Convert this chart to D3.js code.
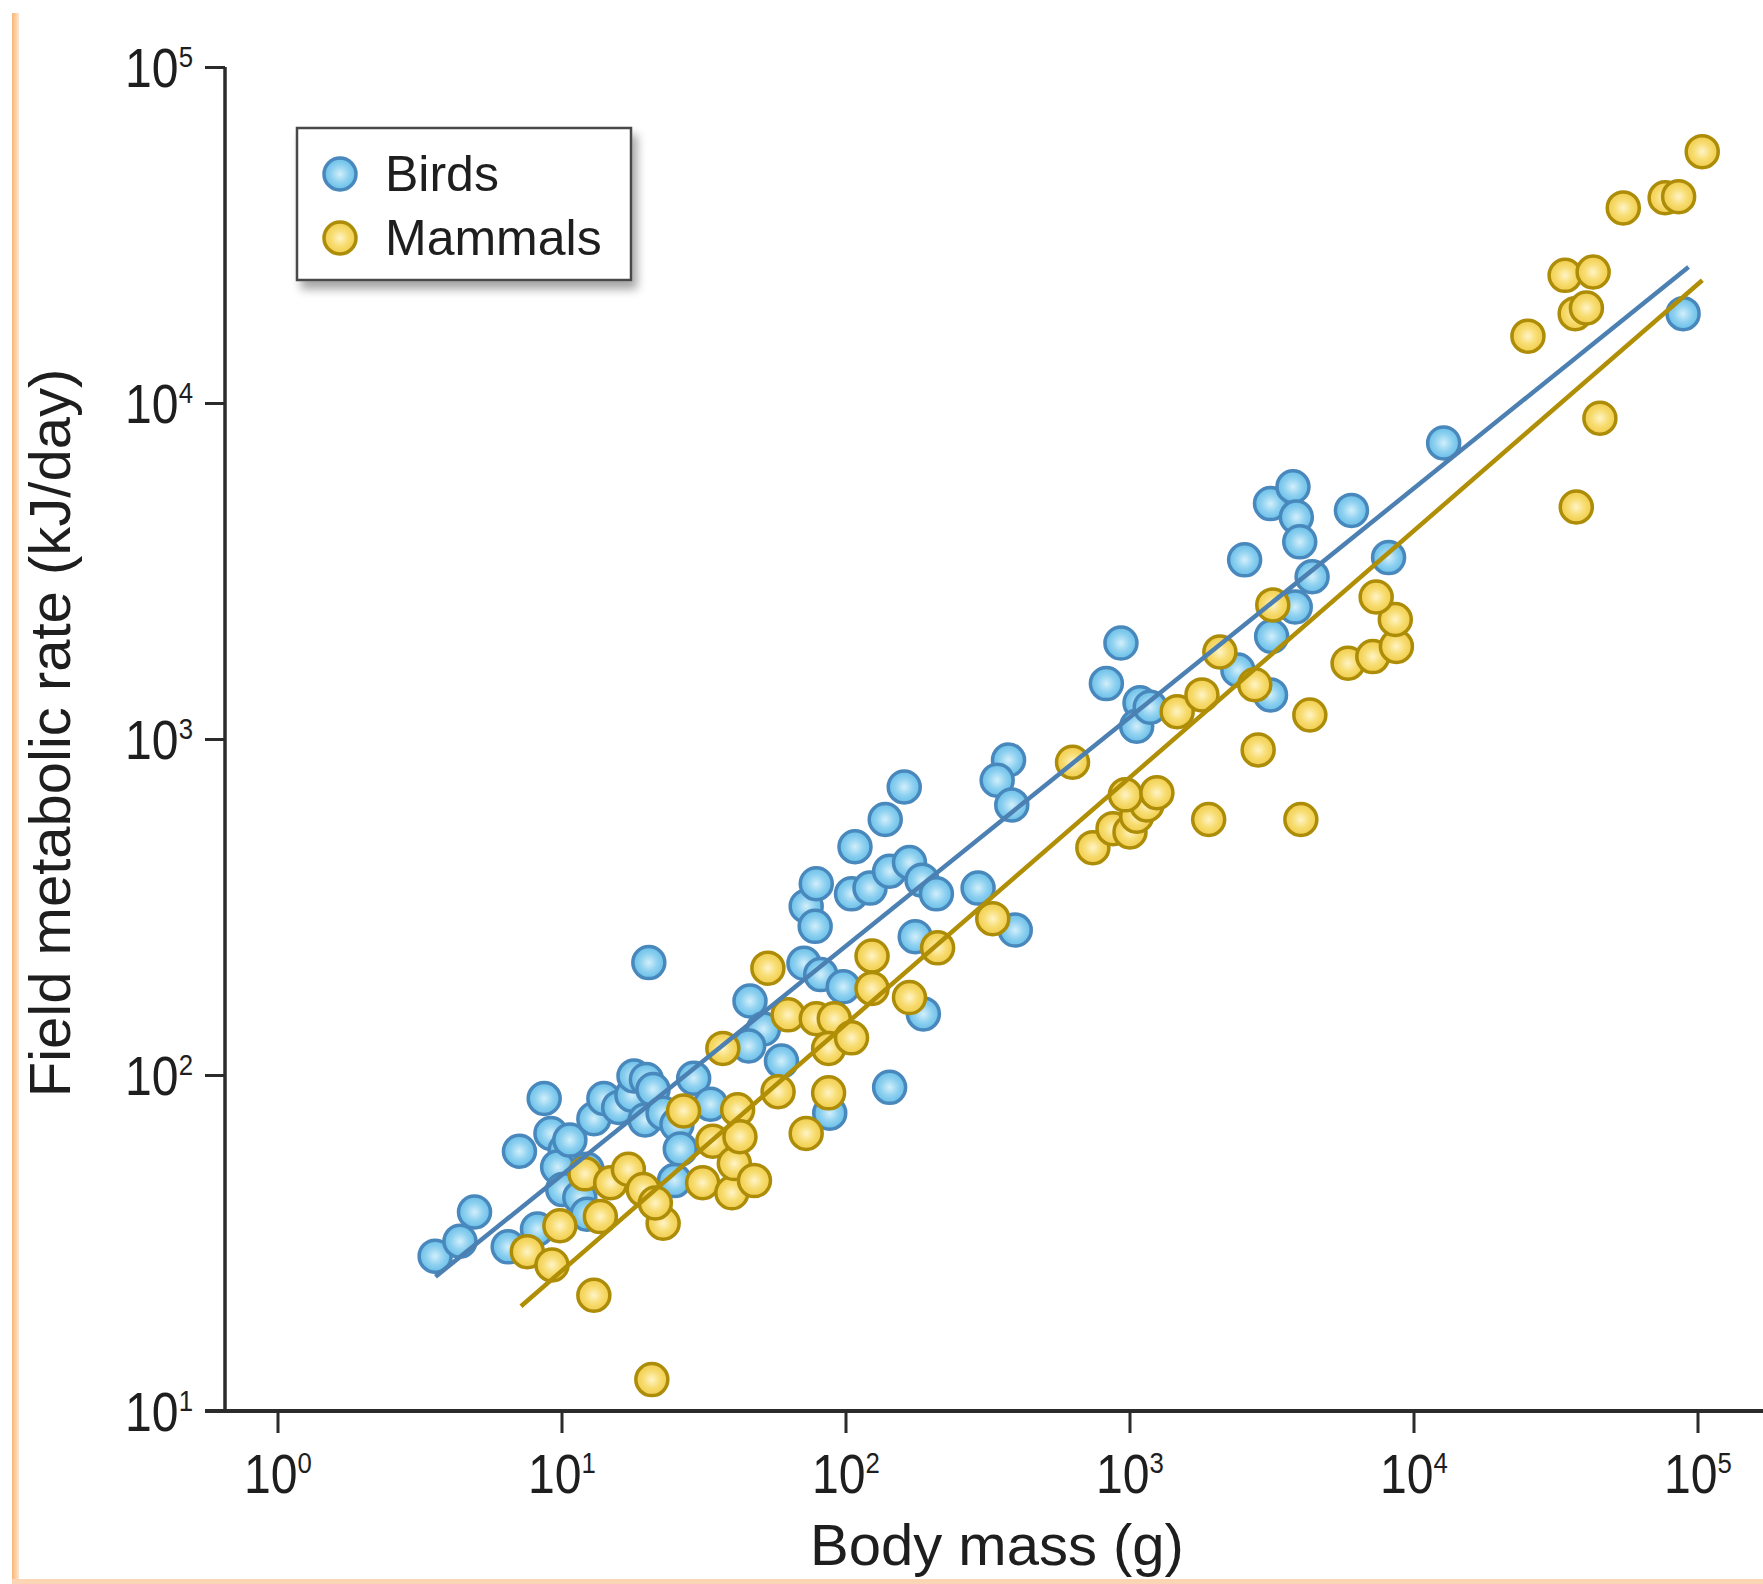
<!DOCTYPE html>
<html>
<head>
<meta charset="utf-8">
<script src="https://cdn.jsdelivr.net/npm/d3@7"></script>
<style>
  html, body { margin: 0; padding: 0; background: #fff; }
  svg { display: block; }
  text { font-family: "Liberation Sans", Arial, Helvetica, sans-serif; }
</style>
</head>
<body>
<script>
// Body mass (g) and field metabolic rate (kJ/day) for each species.
const birdMass = [3.59, 4.39, 4.94, 6.49, 8.23, 7.11, 8.69, 9.18, 10.3, 9.69,
  10.1, 11.6, 12.3, 10.7, 12.3, 13.0, 14.1, 15.9, 17.7, 18.0,
  19.9, 21.0, 19.7, 22.8, 25.5, 26.2, 25.0, 29.2, 33.5, 20.3,
  46.1, 51.4, 45.6, 59.5, 71.4, 81.8, 98.2, 143, 88.0, 72.7,
  78.9, 78.2, 105, 122, 108, 138, 161, 143, 168, 186,
  209, 293, 176, 396, 188, 375, 342, 385, 829, 933,
  1089, 1060, 1183, 2543, 2408, 3137, 3166, 3137, 3764, 3868,
  3976, 4395, 3833, 6046, 8170, 12770, 88970];
const birdFMR = [28.9, 32.0, 39.1, 30.8, 34.8, 59.3, 85.1, 67.0, 59.7, 53.2,
  45.6, 43.2, 38.5, 64.0, 52.4, 74.1, 85.1, 80.1, 87.1, 99.3,
  97.0, 90.5, 73.5, 77.0, 71.3, 60.2, 48.5, 97.8, 81.9, 216,
  166, 137, 122, 110, 215, 199, 183, 91.9, 77.0, 318,
  371, 277, 346, 360, 478, 576, 720, 404, 429, 380,
  346, 360, 258, 270, 152, 866, 754, 636, 1462, 1930,
  1282, 1091, 1244, 3413, 1604, 1353, 2021, 5018, 5634, 4575,
  3861, 3040, 2470, 4791, 3466, 7606, 18450];

const mammalMass = [20.8, 13.0, 7.58, 9.26, 9.87, 13.7, 22.8, 12.1, 14.9, 17.2,
  19.4, 21.4, 26.9, 31.4, 34.1, 39.8, 40.6, 41.7, 42.5, 47.8,
  37.0, 53.3, 57.9, 62.8, 72.7, 78.9, 91.3, 87.2, 105, 87.2,
  124, 124, 168, 211, 330, 630, 743, 875, 1004, 1060,
  1151, 967, 1249, 1900, 1472, 1799, 2081, 2761, 2838, 3195,
  4315, 4012, 5883, 7190, 8706, 8627, 7389, 37430, 45330, 25290,
  34180, 42910, 37090, 40630, 54780, 76910, 85810, 103900];
const mammalFMR = [12.4, 22.1, 29.8, 27.2, 35.6, 37.9, 36.2, 50.8, 47.8, 52.4,
  45.6, 41.6, 78.2, 47.8, 63.5, 44.6, 54.5, 78.8, 65.5, 48.5,
  120, 208, 89.2, 151, 67.0, 147, 147, 120, 129, 88.5,
  226, 181, 170, 239, 292, 853, 475, 541, 529, 589,
  636, 682, 692, 576, 1206, 1353, 1815, 1451, 928, 2507,
  1179, 576, 1680, 1759, 1886, 2268, 2647, 4903, 9012, 15810,
  23980, 24540, 18450, 19180, 38080, 40820, 41130, 55980];

// Fitted allometric lines (endpoints: mass, FMR).
const birdFitMass = [3.6, 93000];
const birdFitFMR = [25.1, 25400];
const mammalFitMass = [7.2, 104000];
const mammalFitFMR = [20.5, 23200];

const xTicks = [1, 10, 100, 1000, 10000, 100000];
const yTicks = [10, 100, 1000, 10000, 100000];
const legendLabels = ["Birds", "Mammals"];

const W = 1763, H = 1584;
const svg = d3.select("body").append("svg").attr("width", W).attr("height", H);

const x = d3.scaleLog().domain([1, 1e5]).range([277.5, 1697.5]);
const y = d3.scaleLog().domain([10, 1e5]).range([1411, 67]);

const defs = svg.append("defs");
function radial(id, c0, c1, c2) {
  const g = defs.append("radialGradient").attr("id", id)
    .attr("cx", "50%").attr("cy", "50%").attr("r", "55%");
  g.append("stop").attr("offset", "0%").attr("stop-color", c0);
  g.append("stop").attr("offset", "50%").attr("stop-color", c1);
  g.append("stop").attr("offset", "100%").attr("stop-color", c2);
}
radial("gBird", "#d2effb", "#8fd1f0", "#5fbae7");
radial("gMammal", "#fff4c6", "#f7dc70", "#efc944");

const edge = defs.append("linearGradient").attr("id", "edge")
  .attr("x1", "0%").attr("x2", "100%");
edge.append("stop").attr("offset", "0%").attr("stop-color", "#f8b675");
edge.append("stop").attr("offset", "100%").attr("stop-color", "#fde6d0");

const shadow = defs.append("filter").attr("id", "shadow")
  .attr("x", "-10%").attr("y", "-10%").attr("width", "130%").attr("height", "140%");
shadow.append("feDropShadow").attr("dx", 5).attr("dy", 8)
  .attr("stdDeviation", 5).attr("flood-color", "#000").attr("flood-opacity", 0.35);

// page frame edges
svg.append("rect").attr("x", 12).attr("y", 13).attr("width", 7).attr("height", H - 13)
  .attr("fill", "url(#edge)");
svg.append("rect").attr("x", 12).attr("y", 1579).attr("width", W - 12).attr("height", 5)
  .attr("fill", "#fcd6b4");

const style = {
  bird: { fill: "url(#gBird)", stroke: "#4888bc", line: "#4c80b2" },
  mammal: { fill: "url(#gMammal)", stroke: "#ad8c08", line: "#b08e05" }
};
const R = 16;

function drawPoints(mass, fmr, s) {
  const pts = mass.map((m, i) => ({ m, f: fmr[i] }));
  svg.append("g").selectAll("circle").data(pts).join("circle")
    .attr("cx", d => x(d.m)).attr("cy", d => y(d.f)).attr("r", R)
    .attr("fill", s.fill).attr("stroke", s.stroke).attr("stroke-width", 3.5);
}
drawPoints(birdMass, birdFMR, style.bird);
drawPoints(mammalMass, mammalFMR, style.mammal);

const line = d3.line().x(d => x(d[0])).y(d => y(d[1]));
function drawFit(ms, fs, color) {
  svg.append("path").datum(ms.map((m, i) => [m, fs[i]]))
    .attr("d", line).attr("fill", "none").attr("stroke", color).attr("stroke-width", 4.5);
}
drawFit(birdFitMass, birdFitFMR, style.bird.line);
drawFit(mammalFitMass, mammalFitFMR, style.mammal.line);

// axes
const axisColor = "#2b2b2b";
const xAxis = svg.append("g").attr("transform", `translate(0,${y.range()[0]})`)
  .call(d3.axisBottom(x).tickValues(xTicks).tickSize(22).tickSizeOuter(0).tickFormat(() => ""));
const yAxis = svg.append("g").attr("transform", `translate(225,0)`)
  .call(d3.axisLeft(y).tickValues(yTicks).tickSize(20).tickSizeOuter(0).tickFormat(() => ""));
[xAxis, yAxis].forEach(a => {
  a.select(".domain").remove();
  a.selectAll(".tick line").attr("stroke", axisColor).attr("stroke-width", 3);
  a.selectAll(".tick text").remove();
});
svg.append("line").attr("x1", 225).attr("x2", 225).attr("y1", y.range()[1]).attr("y2", y.range()[0])
  .attr("stroke", axisColor).attr("stroke-width", 3.5);
svg.append("line").attr("x1", 205).attr("x2", W).attr("y1", y.range()[0]).attr("y2", y.range()[0])
  .attr("stroke", axisColor).attr("stroke-width", 4);

const SX = 0.86;
function powLabel(g, v, anchor) {
  const t = g.append("text").attr("text-anchor", anchor).attr("fill", "#1e1e1e")
    .attr("font-size", 56).attr("transform", `scale(${SX},1)`);
  t.append("tspan").text("10");
  t.append("tspan").attr("dy", -20).attr("font-size", 30).text(Math.round(Math.log10(v)));
  return t;
}
xAxis.selectAll(".tick").each(function(d) {
  powLabel(d3.select(this), d, "middle").attr("y", 82);
});
yAxis.selectAll(".tick").each(function(d) {
  powLabel(d3.select(this), d, "end").attr("x", -32 / SX).attr("y", 19);
});

// axis titles
svg.append("text").attr("x", 997).attr("y", 1565).attr("text-anchor", "middle")
  .attr("font-size", 58).attr("fill", "#1e1e1e").text("Body mass (g)");
svg.append("text").attr("transform", "translate(70,733) rotate(-90)").attr("text-anchor", "middle")
  .attr("font-size", 58).attr("fill", "#1e1e1e").text("Field metabolic rate (kJ/day)");

// legend
const lg = svg.append("g");
lg.append("rect").attr("x", 297).attr("y", 128).attr("width", 334).attr("height", 152)
  .attr("fill", "#fff").attr("stroke", "#4a4a4a").attr("stroke-width", 2.5)
  .attr("filter", "url(#shadow)");
const legendStyles = [style.bird, style.mammal];
legendLabels.forEach((lab, i) => {
  const cy = 174 + i * 64;
  lg.append("circle").attr("cx", 340).attr("cy", cy).attr("r", 16)
    .attr("fill", legendStyles[i].fill).attr("stroke", legendStyles[i].stroke).attr("stroke-width", 3.5);
  lg.append("text").attr("x", 385).attr("y", cy + 17).attr("font-size", 50)
    .attr("fill", "#1e1e1e").text(lab);
});
</script>
</body>
</html>
